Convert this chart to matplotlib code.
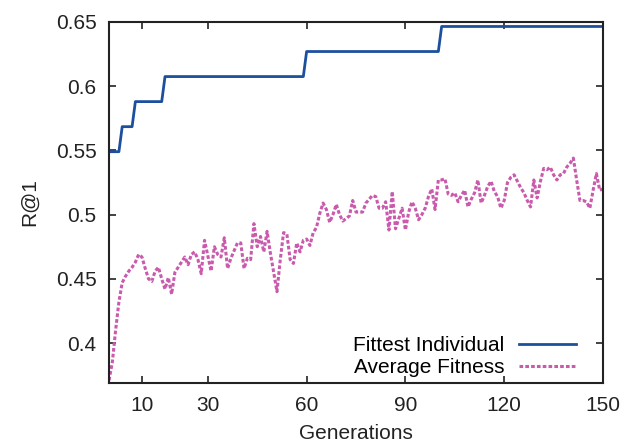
import matplotlib
matplotlib.use("Agg")
import matplotlib.pyplot as plt
import numpy as np

plt.rcParams['font.family'] = ['Liberation Sans', 'DejaVu Sans']

generations = list(range(0, 151))

fittest_levels = [0.549, 0.5685, 0.588, 0.6075, 0.627, 0.6465]
fittest_counts = [4, 4, 9, 43, 41, 50]

average_fitness = [
    0.371, 0.385, 0.410, 0.432, 0.447, 0.452, 0.456, 0.459, 0.463, 0.469,
    0.467, 0.458, 0.450, 0.448, 0.456, 0.459, 0.450, 0.442, 0.451, 0.438,
    0.455, 0.459, 0.463, 0.467, 0.461, 0.469, 0.471, 0.465, 0.454, 0.480,
    0.468, 0.456, 0.475, 0.469, 0.467, 0.482, 0.458, 0.466, 0.472, 0.478,
    0.478, 0.458, 0.466, 0.465, 0.493, 0.475, 0.483, 0.471, 0.487, 0.470,
    0.455, 0.440, 0.465, 0.486, 0.485, 0.465, 0.462, 0.478, 0.471, 0.480,
    0.481, 0.476, 0.486, 0.490, 0.501, 0.509, 0.504, 0.494, 0.500, 0.508,
    0.500, 0.495, 0.497, 0.499, 0.511, 0.502, 0.502, 0.502, 0.509, 0.512,
    0.515, 0.514, 0.505, 0.505, 0.510, 0.488, 0.518, 0.489, 0.497, 0.505,
    0.488, 0.502, 0.510, 0.505, 0.496, 0.500, 0.505, 0.514, 0.520, 0.504,
    0.527, 0.527, 0.528, 0.516, 0.515, 0.517, 0.510, 0.515, 0.519, 0.506,
    0.512, 0.517, 0.527, 0.509, 0.515, 0.522, 0.526, 0.518, 0.514, 0.505,
    0.511, 0.525, 0.529, 0.531, 0.526, 0.521, 0.517, 0.511, 0.506, 0.527,
    0.513, 0.526, 0.536, 0.535, 0.537, 0.531, 0.527, 0.531, 0.532, 0.537,
    0.540, 0.544, 0.527, 0.511, 0.511, 0.510, 0.505, 0.519, 0.532, 0.519,
    0.520,
]

x_ticks = [10, 30, 60, 90, 120, 150]
y_ticks = [0.4, 0.45, 0.5, 0.55, 0.6, 0.65]
y_tick_labels = ["0.4", "0.45", "0.5", "0.55", "0.6", "0.65"]

fittest = np.repeat(fittest_levels, fittest_counts)

fig = plt.figure(figsize=(6.35, 4.45), dpi=100)
ax = fig.add_axes([0.1717, 0.1393, 0.7779, 0.8113])

ax.plot(generations, fittest, color='#1d4f9f', lw=2.0, label='Fittest Individual')
ax.plot(generations, average_fitness, color='#c95aac', lw=2.2,
        linestyle=(0, (1.2, 0.7)), label='Average Fitness')

ax.set_xlim(0, 150)
ax.set_ylim(0.3689, 0.65)
ax.set_xticks(x_ticks)
ax.set_yticks(y_ticks)
ax.set_yticklabels(y_tick_labels)
ax.tick_params(direction='in', length=5, width=1.2, top=True, right=True,
               labelsize=15, pad=9, colors='#222222', labelcolor='#222222')
for s in ax.spines.values():
    s.set_linewidth(1.5)
    s.set_color('#222222')

ax.set_xlabel('Generations', fontsize=15, color='#222222', labelpad=7)
ax.set_ylabel('R@1', fontsize=15, color='#222222', labelpad=12)

ax.legend(loc='lower right', frameon=False, markerfirst=False, fontsize=15,
          handlelength=2.75, handletextpad=0.7, labelspacing=0.15,
          borderaxespad=0.3, bbox_to_anchor=(0.975, -0.025))

fig.savefig('out.png', dpi=100)
